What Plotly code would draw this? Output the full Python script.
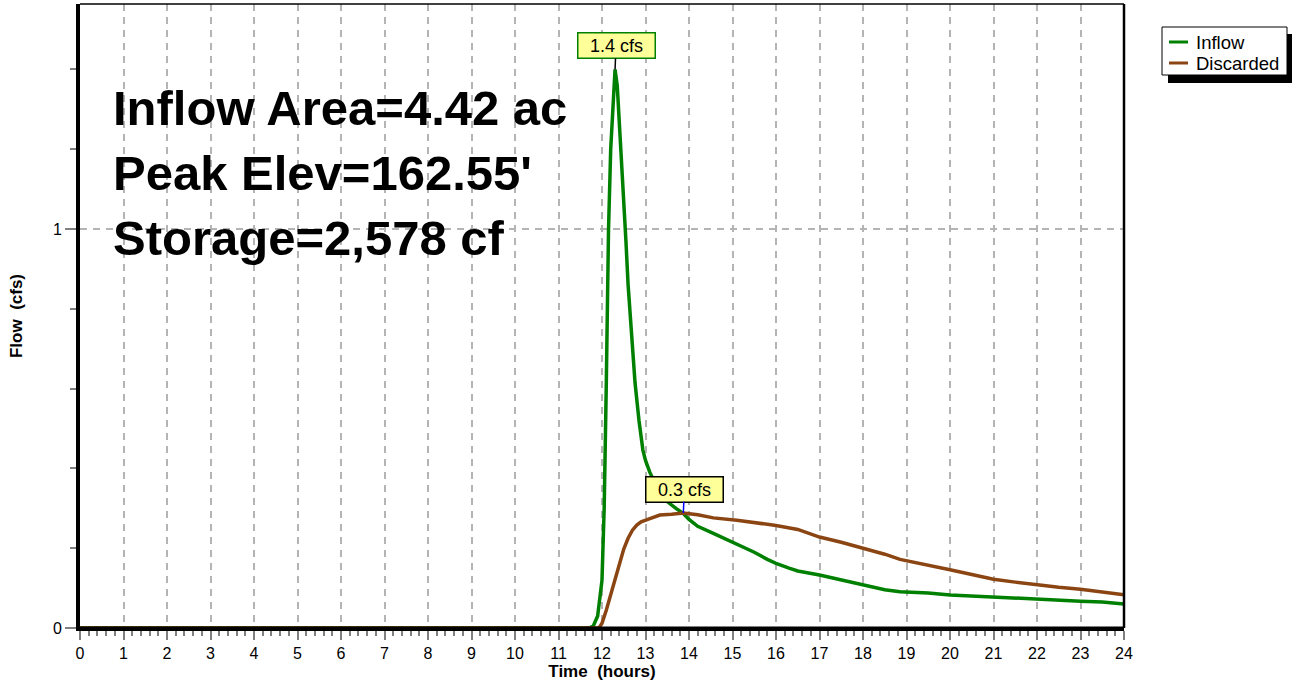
import plotly.graph_objects as go

# Hydrograph series (hours, cfs)
inflow_t = [0, 11.7, 11.8, 11.9, 12.0, 12.05, 12.1, 12.15, 12.2, 12.25, 12.3, 12.35, 12.4,
            12.45, 12.5, 12.55, 12.6, 12.7, 12.76, 12.85, 12.94, 13.0, 13.1, 13.3, 13.5,
            13.7, 13.87, 14.0, 14.2, 14.56, 15.17, 15.5, 15.8, 16.0, 16.3, 16.5, 17.0,
            17.5, 18.0, 18.5, 18.85, 19.5, 20.0, 20.5, 21.0, 21.5, 22.0, 22.5, 23.0, 23.5, 24.0]
inflow_q = [0, 0, 0.005, 0.03, 0.12, 0.3, 0.62, 1.0, 1.2, 1.32, 1.40, 1.36, 1.27,
            1.16, 1.06, 0.97, 0.86, 0.70, 0.614, 0.52, 0.446, 0.42, 0.39, 0.345, 0.317,
            0.30, 0.287, 0.272, 0.255, 0.237, 0.208, 0.19, 0.172, 0.162, 0.15, 0.143, 0.133,
            0.12, 0.108, 0.096, 0.091, 0.088, 0.083, 0.08, 0.078, 0.075, 0.073, 0.07, 0.067, 0.065, 0.06]

discarded_t = [0, 11.9, 11.95, 12.0, 12.1, 12.2, 12.3, 12.4, 12.5, 12.6, 12.7, 12.8, 12.9, 13.1,
               13.33, 13.6, 13.87, 14.2, 14.56, 15.1, 15.5, 16.0, 16.5, 17.0, 17.5, 18.0,
               18.5, 18.85, 19.5, 20.0, 20.5, 21.0, 21.5, 22.0, 22.5, 23.0, 23.5, 24.0]
discarded_q = [0, 0, 0.003, 0.012, 0.045, 0.085, 0.125, 0.165, 0.198, 0.225, 0.245, 0.258, 0.266, 0.274,
               0.283, 0.285, 0.288, 0.284, 0.276, 0.27, 0.265, 0.257, 0.247, 0.228, 0.215, 0.2,
               0.185, 0.172, 0.158, 0.146, 0.134, 0.122, 0.115, 0.108, 0.102, 0.097, 0.091, 0.083]

x_ticks = list(range(0, 25))
y_ticks = [0, 1]
info_lines = ["Inflow Area=4.42 ac", "Peak Elev=162.55'", "Storage=2,578 cf"]
series_names = ["Inflow", "Discarded"]
series_colors = ["#008000", "#8B4513"]

FONT = "Arial, Liberation Sans, sans-serif"
W, H = 1294, 684
L, R, T, B = 80, 170, 4, 56
YMAX = 1.564


def px(x):
    return (x - L) / (W - L - R)


def py(y):
    return (H - B - y) / (H - T - B)


fig = go.Figure()
for name, t, q, c in zip(series_names, [inflow_t, discarded_t], [inflow_q, discarded_q], series_colors):
    fig.add_trace(go.Scatter(x=t, y=q, mode="lines", name=name,
                             line=dict(color=c, width=3.5), showlegend=False))

# Peak callouts
pk_i = max(range(len(inflow_q)), key=lambda i: inflow_q[i])
pk_d = max(range(len(discarded_q)), key=lambda i: discarded_q[i])
callouts = [
    (inflow_t[pk_i], inflow_q[pk_i], "#008000", "black", 1),
    (discarded_t[pk_d], discarded_q[pk_d], "black", "blue", 1),
]
for xv, yv, border, stem, dx in callouts:
    fig.add_annotation(x=xv, y=yv, xref="x", yref="y", text=f"{yv:.1f} cfs",
                       showarrow=True, arrowhead=0, arrowwidth=1.5, arrowcolor=stem,
                       ax=dx, ay=-24, bgcolor="#FFFF99", bordercolor=border, borderwidth=1.5,
                       borderpad=2, width=72, height=20,
                       font=dict(family=FONT, size=18, color="black"))

# Summary text block
for i, line in enumerate(info_lines):
    fig.add_annotation(x=px(111), y=py(108 + 65 * i), xref="paper", yref="paper",
                       xanchor="left", yanchor="middle", showarrow=False, text=f"<b>{line}</b>",
                       font=dict(family=FONT, size=49, color="black"))

shapes = [
    # frame top, right and the zero baseline drawn over the series
    dict(type="line", xref="paper", yref="paper", x0=0, x1=1, y0=1, y1=1,
         line=dict(color="black", width=1.5)),
    dict(type="line", xref="paper", yref="paper", x0=1, x1=1, y0=0, y1=1,
         line=dict(color="black", width=2.5)),
    dict(type="line", xref="paper", yref="paper", x0=0, x1=1, y0=0, y1=0,
         line=dict(color="black", width=3), layer="above"),
    # legend shadow and box
    dict(type="rect", xref="paper", yref="paper", x0=px(1168), x1=px(1292), y0=py(83), y1=py(34),
         fillcolor="black", line=dict(width=0)),
    dict(type="rect", xref="paper", yref="paper", x0=px(1162), x1=px(1287), y0=py(75), y1=py(27),
         fillcolor="white", line=dict(color="black", width=1)),
]
for i, (name, c) in enumerate(zip(series_names, series_colors)):
    yy = 42 + 21 * i
    shapes.append(dict(type="line", xref="paper", yref="paper", x0=px(1169), x1=px(1188),
                       y0=py(yy), y1=py(yy), line=dict(color=c, width=3)))
    fig.add_annotation(x=px(1194), y=py(yy), xref="paper", yref="paper", xanchor="left",
                       yanchor="middle", showarrow=False, text=name,
                       font=dict(family=FONT, size=18.5, color="black"))

grid = dict(gridcolor="#B4B4B4", griddash="7px,6px", gridwidth=1.5)
fig.update_layout(
    width=W, height=H,
    margin=dict(l=L, r=R, t=T, b=B),
    paper_bgcolor="white", plot_bgcolor="white",
    font=dict(family=FONT, size=16, color="black"),
    shapes=shapes,
    xaxis=dict(range=[0, 24], tickvals=x_ticks, ticks="outside", ticklen=9, tickwidth=1.5,
               tickcolor="#808080", showline=True, linecolor="black", linewidth=3,
               zeroline=False, layer="above traces", tickfont=dict(size=16),
               title=dict(text="<b>Time  (hours)</b>", font=dict(size=17), standoff=0),
               minor=dict(dtick=0.2, ticks="outside", ticklen=5, tickcolor="#808080",
                          showgrid=False),
               showgrid=True, **grid),
    yaxis=dict(range=[0, YMAX], tickvals=y_ticks, ticks="outside", ticklen=11, tickwidth=1.5,
               tickcolor="#808080", showline=True, linecolor="black", linewidth=4,
               zeroline=False, layer="above traces", tickfont=dict(size=16),
               title=dict(text="<b>Flow  (cfs)</b>", font=dict(size=17), standoff=27),
               minor=dict(dtick=0.2, ticks="outside", ticklen=6, tickcolor="#808080",
                          showgrid=False),
               showgrid=True, **grid),
)

fig.write_html("out.html")
